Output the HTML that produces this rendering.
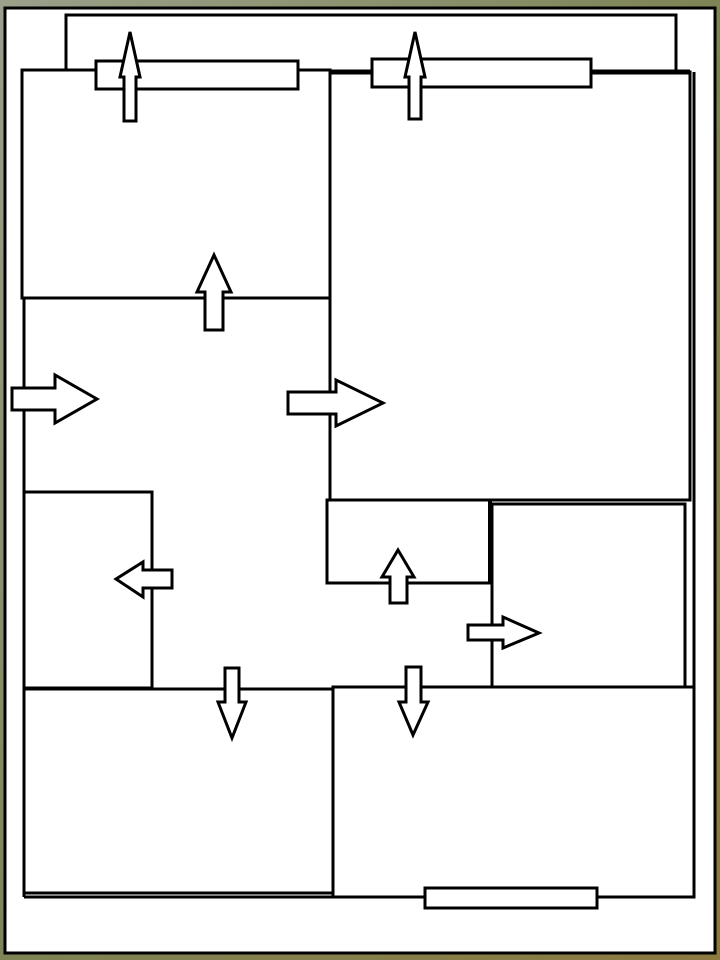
<!DOCTYPE html>
<html><head><meta charset="utf-8"><style>
html,body{margin:0;padding:0;width:720px;height:960px;overflow:hidden;background:#8a8a5a;}
svg{display:block}
</style></head><body>
<svg width="720" height="960" viewBox="0 0 720 960" xmlns="http://www.w3.org/2000/svg">
<defs>
<linearGradient id="bg" x1="0" y1="0" x2="1" y2="1">
<stop offset="0" stop-color="#9aa08a"/><stop offset="0.5" stop-color="#7e8455"/><stop offset="1" stop-color="#8c7a40"/>
</linearGradient>
</defs>
<rect width="720" height="960" fill="url(#bg)"/>
<rect x="5" y="8" width="710" height="945" fill="#fff" stroke="#000" stroke-width="3"/>
<g fill="none" stroke="#000" stroke-width="3">
<polyline points="66,70 66,15 676,15 676,72"/>
<rect x="22" y="70" width="308" height="228"/>
<rect x="330" y="72" width="360" height="428"/>
<line x1="330" y1="72" x2="690" y2="72" stroke-width="5"/>
<line x1="694" y1="72" x2="694" y2="897"/>
<line x1="24" y1="298" x2="24" y2="897"/>
<line x1="24" y1="897" x2="694" y2="897"/>
<rect x="24" y="492" width="128" height="196"/>
<rect x="327" y="500" width="163" height="83"/>
<line x1="490" y1="500" x2="490" y2="583" stroke-width="4"/>
<rect x="492" y="504" width="193" height="183"/>
<line x1="492" y1="583" x2="492" y2="687"/>
<rect x="24" y="689" width="309" height="204"/>
<rect x="333" y="687" width="361" height="210"/>
</g>
<g fill="#fff" stroke="#000" stroke-width="3">
<rect x="96" y="61" width="202" height="28"/>
<rect x="372" y="59" width="219" height="28"/>
<rect x="425" y="888" width="172" height="20"/>
</g>
<g fill="#fff" stroke="#000" stroke-width="3" stroke-linejoin="miter">
<polygon points="130,32 140,77 136,77 136,121 124,121 124,77 120,77"/>
<polygon points="415,32 425,77 421,77 421,119 409,119 409,77 405,77"/>
<polygon points="214,255 231,292 223,292 223,330 205,330 205,292 197,292"/>
<polygon points="398,550 414,577 407,577 407,603 390,603 390,577 382,577"/>
<polygon points="97,399 55,375 55,388 12,388 12,410 55,410 55,423"/>
<polygon points="383,403 336,380 336,392 288,392 288,414 336,414 336,426"/>
<polygon points="539,633 503,617 503,625 468,625 468,640 503,640 503,648"/>
<polygon points="116,579 143,562 143,570 172,570 172,588 143,588 143,597"/>
<polygon points="232,738 246,702 239,702 239,668 225,668 225,702 218,702"/>
<polygon points="413,735 428,702 421,702 421,667 406,667 406,702 399,702"/>
</g>
</svg>
</body></html>
